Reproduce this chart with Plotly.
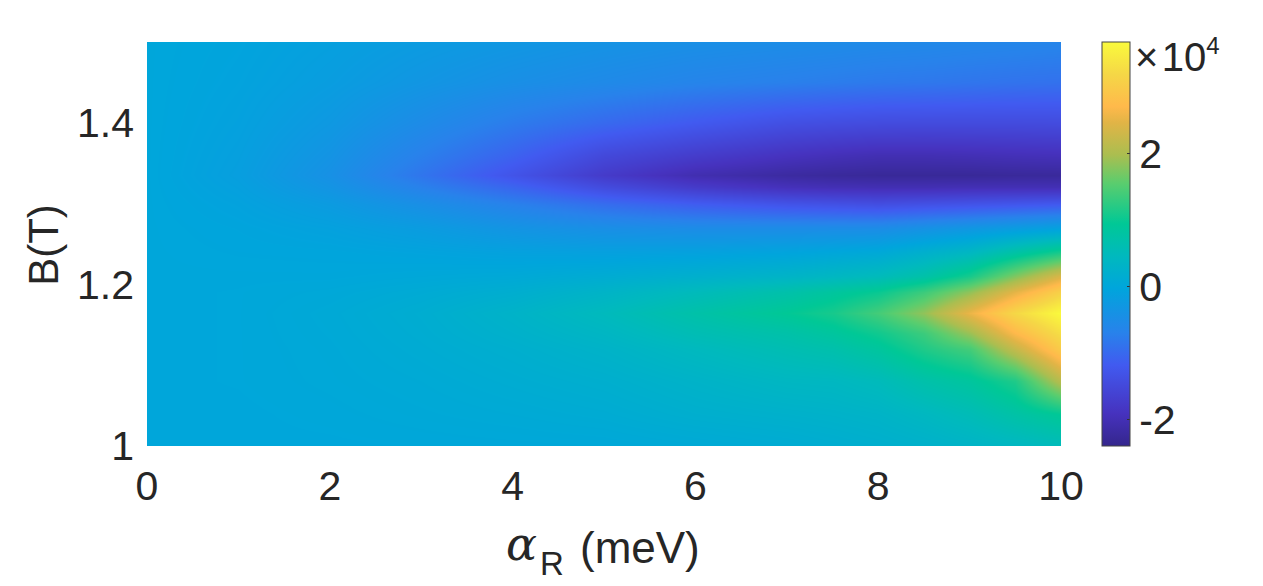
import plotly.graph_objects as go
import numpy as np

alpha = [0, 1, 2, 3, 4, 5, 6, 7, 7.5, 8, 8.5, 9, 9.5, 10]
B = [1.0, 1.04, 1.08, 1.12, 1.14, 1.165, 1.19, 1.21, 1.24, 1.27, 1.30, 1.32, 1.335, 1.36, 1.40, 1.45, 1.5]

z_a0 = [0.0, 0.0, 0.0, 0.0, 0.0, 0.0, 0.0, 0.0, 0.0, 0.0, 0.0, 0.0, 0.0, 0.0, 0.0, 0.0, 0.0]
z_a1 = [0.0, 0.0, 0.01, 0.01, 0.01, 0.01, 0.01, 0.0, -0.02, -0.04, -0.08, -0.12, -0.15, -0.13, -0.1, -0.07, -0.05]
z_a2 = [0.0, 0.02, 0.04, 0.05, 0.06, 0.07, 0.04, 0.0, -0.03, -0.1, -0.22, -0.35, -0.42, -0.36, -0.27, -0.18, -0.13]
z_a3 = [0.01, 0.05, 0.08, 0.12, 0.14, 0.16, 0.1, 0.03, -0.06, -0.2, -0.45, -0.7, -0.85, -0.72, -0.52, -0.32, -0.22]
z_a4 = [0.02, 0.08, 0.14, 0.2, 0.25, 0.3, 0.18, 0.06, -0.1, -0.35, -0.7, -1.05, -1.3, -1.08, -0.78, -0.45, -0.3]
z_a5 = [0.03, 0.12, 0.2, 0.3, 0.38, 0.48, 0.32, 0.13, -0.12, -0.45, -0.95, -1.45, -1.75, -1.5, -1.0, -0.55, -0.38]
z_a6 = [0.07, 0.2, 0.3, 0.45, 0.58, 0.72, 0.5, 0.22, -0.1, -0.5, -1.15, -1.75, -2.05, -1.72, -1.2, -0.65, -0.45]
z_a7 = [0.12, 0.25, 0.4, 0.6, 0.72, 0.95, 0.7, 0.32, -0.05, -0.5, -1.3, -1.95, -2.2, -1.9, -1.38, -0.72, -0.5]
z_a75 = [0.16, 0.28, 0.42, 0.68, 0.85, 1.1, 0.85, 0.4, 0.0, -0.5, -1.35, -2.0, -2.25, -1.97, -1.42, -0.76, -0.52]
z_a8 = [0.2, 0.32, 0.5, 0.85, 1.05, 1.4, 1.0, 0.5, 0.05, -0.5, -1.4, -2.02, -2.28, -2.02, -1.45, -0.8, -0.55]
z_a85 = [0.25, 0.42, 0.7, 1.15, 1.35, 1.85, 1.35, 0.72, 0.22, -0.4, -1.35, -2.02, -2.28, -2.02, -1.46, -0.82, -0.57]
z_a9 = [0.32, 0.55, 0.85, 1.4, 1.9, 2.55, 1.85, 1.1, 0.4, -0.3, -1.3, -2.0, -2.28, -2.0, -1.46, -0.85, -0.6]
z_a95 = [0.4, 0.75, 1.15, 2.2, 2.7, 3.2, 2.5, 1.75, 0.75, -0.2, -1.25, -2.0, -2.26, -1.97, -1.46, -0.88, -0.62]
z_a10 = [0.5, 0.95, 2.1, 3.0, 3.3, 3.68, 3.1, 2.4, 1.1, -0.1, -1.2, -2.0, -2.25, -1.95, -1.45, -0.9, -0.65]

columns = [z_a0, z_a1, z_a2, z_a3, z_a4, z_a5, z_a6, z_a7, z_a75, z_a8, z_a85, z_a9, z_a95, z_a10]
z = np.array(columns).T

colorscale = [
    [0.0, "rgb(52,38,140)"], [0.08, "rgb(70,50,190)"], [0.2, "rgb(65,90,240)"],
    [0.28, "rgb(40,130,235)"], [0.39, "rgb(0,165,220)"], [0.47, "rgb(0,185,190)"],
    [0.55, "rgb(0,200,150)"], [0.65, "rgb(90,205,110)"], [0.72, "rgb(170,190,80)"],
    [0.8, "rgb(225,180,70)"], [0.84, "rgb(255,185,75)"], [0.92, "rgb(245,215,70)"],
    [1.0, "rgb(250,250,60)"],
]

FONT = "Liberation Sans"
TXT = "#262626"
W, H = 1255, 578
SIZE = 41


def px(v):
    return (v - 147) / 914


def py(v):
    return (446 - v) / 404


fig = go.Figure(go.Heatmap(
    x=alpha, y=B, z=z, zmin=-2.4, zmax=3.68, zsmooth="best", colorscale=colorscale,
    colorbar=dict(
        x=px(1102), xanchor="left", xref="paper", y=0.5, yanchor="middle",
        len=1.0, lenmode="fraction", thickness=28, thicknessmode="pixels",
        outlinecolor="#444444", outlinewidth=1, borderwidth=0, xpad=0, ypad=0,
        tickvals=[-2, 0, 2], ticktext=["-2", "0", "2"], ticks="inside", ticklen=3,
        ticklabelposition="outside", tickcolor="#333333",
        tickfont=dict(family=FONT, size=SIZE, color=TXT),
    ),
))

fig.update_layout(
    width=W, height=H, autosize=False, paper_bgcolor="white", plot_bgcolor="white",
    margin=dict(l=139, r=202, t=34, b=140, pad=0),
    font=dict(family=FONT, size=SIZE, color=TXT),
    xaxis=dict(range=[0, 10], tickvals=[0, 2, 4, 6, 8, 10], showgrid=False, zeroline=False,
               ticks="", showline=False, ticklabelstandoff=12),
    yaxis=dict(range=[1, 1.5], tickvals=[1, 1.2, 1.4], ticktext=["1", "1.2", "1.4"], showgrid=False,
               zeroline=False, ticks="", showline=False, ticklabelstandoff=12),
    annotations=[
        dict(text="B(T)", xref="paper", yref="paper", x=-0.114, y=0.4975, xanchor="center", yanchor="middle",
             textangle=-90, showarrow=False, font=dict(family=FONT, size=42, color=TXT)),
        dict(text="<i>α</i>", xref="paper", yref="paper", x=px(521), y=py(544), xanchor="center",
             yanchor="middle", showarrow=False, font=dict(family="DejaVu Serif", size=46, color=TXT)),
        dict(text="R", xref="paper", yref="paper", x=px(552), y=py(563), xanchor="center", yanchor="middle",
             showarrow=False, font=dict(family=FONT, size=33, color=TXT)),
        dict(text="(meV)", xref="paper", yref="paper", x=px(640), y=py(547), xanchor="center", yanchor="middle",
             showarrow=False, font=dict(family=FONT, size=44, color=TXT)),
        dict(text="×\u200a10<sup><span style='font-size:24px'>4</span></sup>", xref="paper", yref="paper",
             x=px(1133), y=py(55), xanchor="left",
             yanchor="middle", showarrow=False, font=dict(family=FONT, size=40, color=TXT)),
    ],
)

fig.write_html("out.html")
